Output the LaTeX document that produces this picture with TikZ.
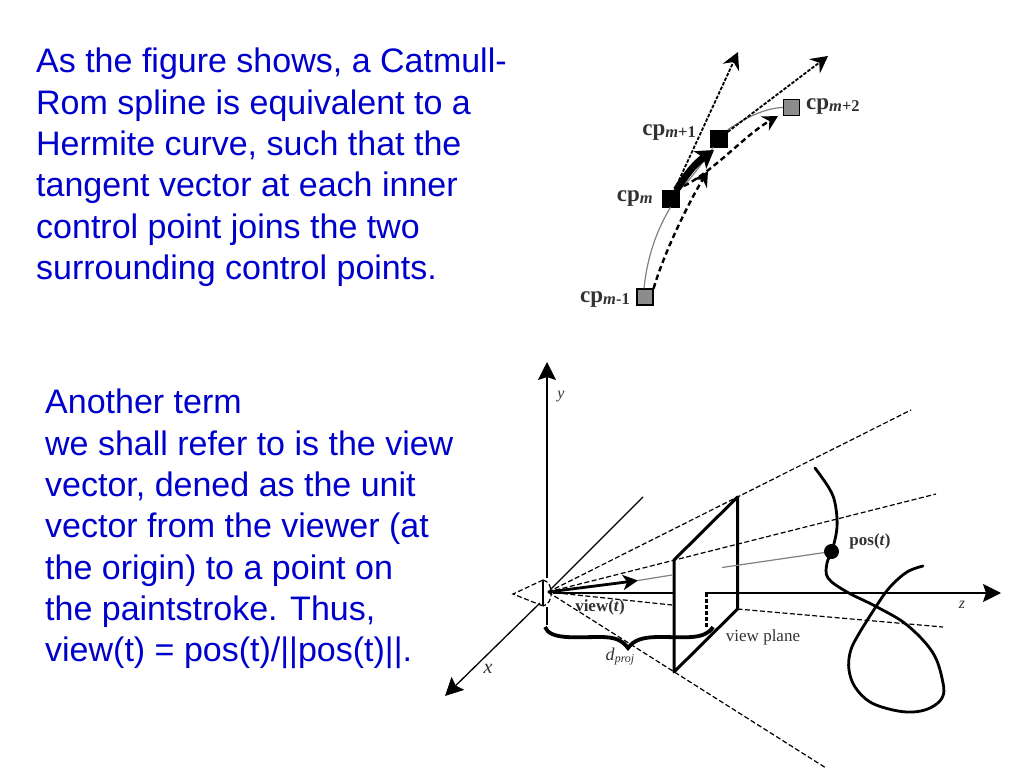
\documentclass[tikz,border=0pt]{standalone}
\usepackage{fontspec}
\setmainfont{Liberation Serif}
\newfontfamily\bodyfont{Liberation Sans}
\usetikzlibrary{arrows.meta}
\definecolor{bodyblue}{RGB}{0,0,204}
\definecolor{lbl}{RGB}{50,50,50}
\newcommand{\subm}{\textit{\fontsize{16.5}{18}\selectfont\raisebox{-2pt}{m}}}
\newcommand{\subn}[1]{\fontsize{16.5}{18}\selectfont\raisebox{-2pt}{#1}}
\tikzset{
  para/.style={anchor=north west,inner sep=0pt,align=left,text=bodyblue,font=\bodyfont\fontsize{34}{41.3}\selectfont},
  lab/.style={inner sep=0pt,text=lbl,font=\fontsize{16}{18}\selectfont},
  cpbig/.style={inner sep=0pt,text=lbl,font=\bfseries\fontsize{23}{25}\selectfont},
  cpblack/.style={draw=black,fill=black,minimum size=17pt,inner sep=0pt},
  cpgray/.style={draw=black,line width=1.2pt,fill=gray!90,minimum size=16pt,inner sep=0pt},
  thincurve/.style={draw=gray,line width=1.2pt},
  tanarrow/.style={dash pattern=on 3.5pt off 1.5pt,line width=1.8pt,-{Stealth[length=17pt,width=18pt,inset=6pt]}},
  chordarrow/.style={dash pattern=on 5.5pt off 3.5pt,line width=2.4pt,-{Stealth[length=15pt,width=16pt,inset=5pt]}},
  axisline/.style={line width=1.3pt},
  axisarrow/.style={line width=1.3pt,-{Stealth[length=18pt,width=18pt,inset=3pt]}},
  ray/.style={dashed,dash pattern=on 5pt off 2.5pt,line width=1.2pt},
  planeline/.style={line width=3pt},
  sightline/.style={draw=gray,line width=1.2pt}
}
\begin{document}
\begin{tikzpicture}[x=1pt,y=-1pt]
\useasboundingbox (0,0) rectangle (1024,768);
% text
\node[para] (p1) at (36,48) {As the figure shows, a Catmull-\\Rom spline is equivalent to a\\Hermite curve, such that the\\tangent vector at each inner\\control point joins the two\\surrounding control points.};
\node[para] (p2) at (45,389) {Another term\\we shall refer to is the view\\vector, dened as the unit\\vector from the viewer (at\\the origin) to a point on\\the paintstroke. Thus,\\view(t) = pos(t)/||pos(t)||.};
% spline figure
\node[cpgray] (a) at (645,297) {};
\node[cpblack] (b) at (670.5,198.5) {};
\node[cpblack] (c) at (719,138.5) {};
\node[cpgray] (d) at (791.5,107.5) {};
\coordinate (ta) at (738,52);
\coordinate (tb) at (828,56);
\coordinate (tc) at (714,150);
\coordinate (td) at (708,171);
\coordinate (te) at (778,116);
\coordinate (bs) at (684,186);
\draw[thincurve] (a.north) ++(-1,0) .. controls (648,250) and (660,225) .. (b.south);
\draw[thincurve] (b) .. controls (690,180) and (705,160) .. (c);
\draw[thincurve] (c.north east) .. controls (745,118) and (765,108) .. (d.west);
\draw[tanarrow] (b) -- (ta);
\draw[tanarrow] (c) -- (tb);
\draw[line width=7pt,-{Stealth[length=17pt,width=21pt,inset=4pt]}] (b) .. controls (685,177) and (693,165) .. (tc);
\draw[chordarrow] (a.north east) .. controls (665,250) and (690,200) .. (td);
\draw[chordarrow] (bs) .. controls (715,170) and (745,135) .. (te);
\node[cpbig,anchor=base east] (la) at (630,302) {cp\subm\subn{-1}};
\node[cpbig,anchor=base east] (lb) at (653,201) {cp\subm};
\node[cpbig,anchor=base east] (lc) at (696,135) {cp\subm\subn{+1}};
\node[cpbig,anchor=base west] (ld) at (806,109) {cp\subm\subn{+2}};
% view figure coordinates
\coordinate (o) at (548,592);
\coordinate (ytop) at (547,362);
\coordinate (yu) at (547,578);
\coordinate (yl) at (547,607);
\coordinate (ybot) at (547,625);
\coordinate (zl) at (553,593);
\coordinate (zm1) at (673,593);
\coordinate (zm2) at (705,593);
\coordinate (zend) at (1001,593);
\coordinate (xtop) at (643,497);
\coordinate (xu) at (550,590);
\coordinate (xl) at (540,603);
\coordinate (xend) at (445,696);
\coordinate (TL) at (674,560);
\coordinate (TR) at (737.5,497);
\coordinate (BR) at (737.5,609);
\coordinate (BL) at (674,672);
\coordinate (r1) at (911,410);
\coordinate (r2) at (936,494);
\coordinate (r3a) at (672,605);
\coordinate (r3) at (943,627);
\coordinate (r4) at (826,768);
\coordinate (eyeA) at (513,594);
\coordinate (eyeT) at (543,580);
\coordinate (eyeB) at (543,606);
\coordinate (vt) at (638,580.5);
\coordinate (g1) at (672,575);
\coordinate (g2) at (722,567.5);
\coordinate (dh) at (706.5,593);
\coordinate (dl) at (706.5,627);
% axes
\draw[axisarrow] (yu) -- (ytop);
\draw[axisline] (yl) -- (ybot);
\draw[axisline] (zl) -- (zm1);
\draw[axisarrow] (zm2) -- (zend);
\draw[axisline] (xtop) -- (xu);
\draw[axisarrow] (xl) -- (xend);
% rays
\draw[ray] (o) -- (TR) -- (r1);
\draw[ray] (o) -- (r2);
\draw[ray] (o) -- (r3a);
\draw[ray] (BR) -- (r3);
\draw[ray] (o) -- (r4);
% eye
\draw[ray] (eyeT) -- (eyeA) -- (eyeB);
\draw[line width=1.1pt] (eyeT) -- (eyeB);
\draw[ray] (eyeT) .. controls (554,582) and (554,604) .. (eyeB);
% plane
\draw[planeline,line join=round] (TL) -- (TR) -- (BR) -- (BL) -- cycle;
% view vector
\draw[sightline] (vt) -- (g1);
\node[circle,fill=black,minimum size=15pt,inner sep=0pt] (pos) at (831.5,551.5) {};
\draw[sightline] (g2) -- (pos);
\draw[line width=2.8pt,-{Stealth[length=15pt,width=15pt,inset=4pt]}] (o) -- (vt);
% distance
\draw[line width=2.4pt,dash pattern=on 3.5pt off 2.5pt] (dh) -- (dl);
\coordinate (bra) at (545,627);
\coordinate (brb) at (628,648);
\coordinate (brc) at (713,627);
\draw[line width=3.8pt] (bra) .. controls (550,640) and (575,637) .. (600,637) .. controls (615,637) and (622,640) .. (brb) .. controls (634,640) and (642,637) .. (660,637) .. controls (685,637) and (705,640) .. (brc);
% stroke
\draw[line width=2.8pt,line cap=round] plot[smooth,tension=0.6] coordinates {(815,468) (829,488) (835,503) (837,527) (832,551) (827,563) (828,578) (847,592) (877,607) (907,625) (933,653) (943,683) (942,698) (930,708) (913,712) (893,710) (870,702) (855,687) (849,670) (850,653) (857,637) (877,605) (890,587) (907,572) (923,566)};
% labels
\node[lab] (ly) at (561,397) {\textit{y}};
\node[lab] (lx) at (488,669) {\fontsize{20}{20}\selectfont\textit{x}};
\node[lab] (lz) at (962,605) {\textit{z}};
\node[lab,font=\bfseries\fontsize{17}{19}\selectfont] (lv) at (600,607) {view(\textit{t})};
\node[lab] (ldp) at (620,657) {\fontsize{18}{18}\selectfont\textit{d}\raisebox{-2pt}{\fontsize{12}{12}\selectfont\textit{proj}}};
\node[lab,font=\fontsize{17}{19}\selectfont] (lp) at (763,637) {view plane};
\node[lab,font=\bfseries\fontsize{17}{19}\selectfont] (lpos) at (870,541.5) {pos(\textit{t})};
\end{tikzpicture}
\end{document}
